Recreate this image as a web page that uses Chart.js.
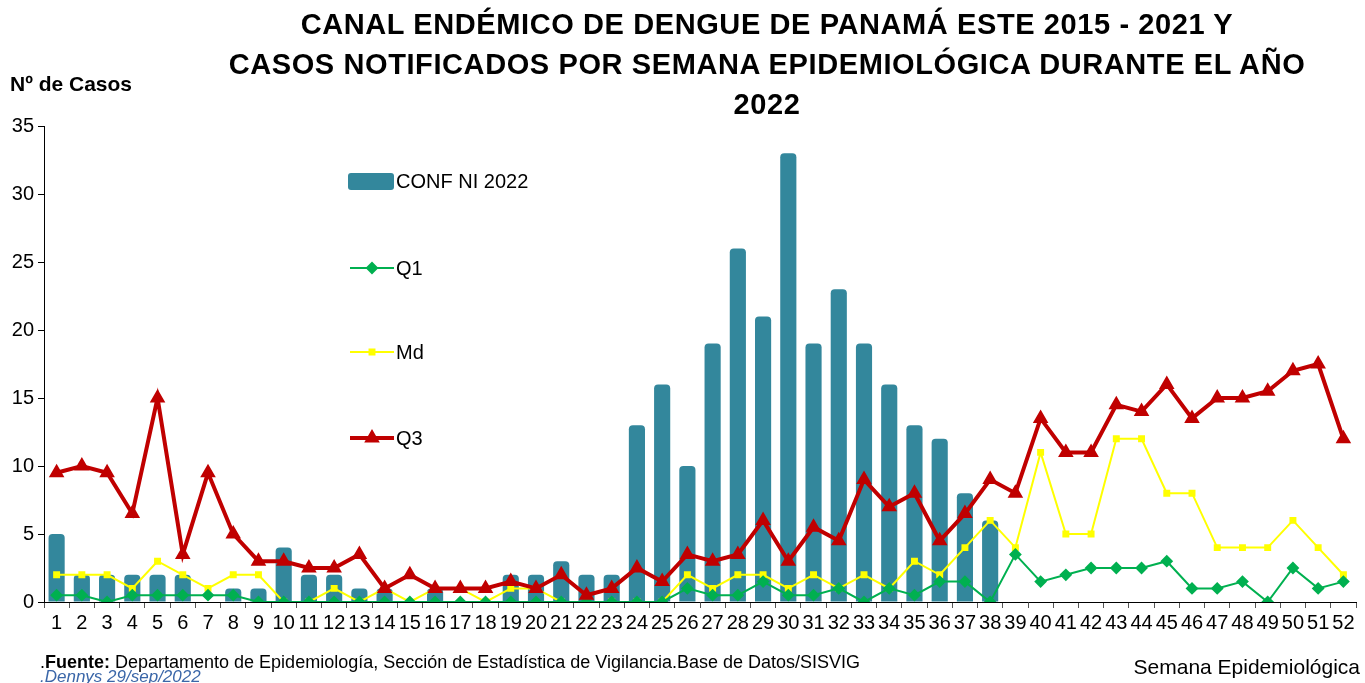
<!DOCTYPE html>
<html>
<head>
<meta charset="utf-8">
<script src="https://cdn.jsdelivr.net/npm/chart.js@4.4.1/dist/chart.umd.min.js"></script>
<style>
    body { margin: 0; background: #fff; }
    #wrap { position: relative; width: 1365px; height: 683px; overflow: hidden; font-family: "Liberation Sans", Arial, sans-serif; }
    #chart { position: absolute; left: 0; top: 0; }
    .titulo { position: absolute; left: 167px; width: 1200px; top: 4px; text-align: center; font-weight: bold; font-size: 29px; letter-spacing: 0.6px; line-height: 40px; color: #000; }
    .ytitle { position: absolute; left: 10px; top: 72px; font-weight: bold; font-size: 21px; }
    .fuente { position: absolute; left: 40px; top: 652px; font-size: 18px; }
    .firma { position: absolute; left: 40px; top: 667px; font-size: 17px; font-style: italic; color: #3a66a8; }
    .xtitle { position: absolute; right: 5px; top: 655px; font-size: 21px; }
</style>
</head>
<body>
<div id="wrap">
    <canvas id="chart" width="1365" height="683"></canvas>
    <div class="titulo">CANAL ENDÉMICO DE DENGUE DE PANAMÁ ESTE 2015 - 2021 Y<br>CASOS NOTIFICADOS POR SEMANA EPIDEMIOLÓGICA DURANTE EL AÑO<br>2022</div>
    <div class="ytitle">Nº de Casos</div>
    <div class="fuente">.<b>Fuente:</b> Departamento de Epidemiología, Sección de Estadística de Vigilancia.Base de Datos/SISVIG</div>
    <div class="firma">.Dennys 29/sep/2022</div>
    <div class="xtitle">Semana Epidemiológica</div>
</div>
<script>
// semanas epidemiologicas
const semanas = Array.from({length: 52}, (_, i) => String(i + 1));

// casos confirmados 2022 (hasta semana 38)
const confNI2022 = [5, 2, 2, 2, 2, 2, 0, 1, 1, 4, 2, 2, 1, 1, 0, 1, 0, 0, 2, 2,
    3, 2, 2, 13, 16, 10, 19, 26, 21, 33, 19, 23, 19, 16, 13, 12, 8, 6];

// canal endemico 2015-2021
const q1 = [0.5, 0.5, 0, 0.5, 0.5, 0.5, 0.5, 0.5, 0, 0, 0, 0, 0, 0, 0, 0, 0, 0, 0, 0,
    0, 0, 0, 0, 0, 1, 0.5, 0.5, 1.5, 0.5, 0.5, 1, 0, 1, 0.5, 1.5, 1.5, 0, 3.5, 1.5,
    2, 2.5, 2.5, 2.5, 3, 1, 1, 1.5, 0, 2.5, 1, 1.5];
const md = [2, 2, 2, 1, 3, 2, 1, 2, 2, 0, 0, 1, 0, 1, 0, 1, 1, 0, 1, 1,
    0, 0, 0, 0, 0, 2, 1, 2, 2, 1, 2, 1, 2, 1, 3, 2, 4, 6, 4, 11,
    5, 5, 12, 12, 8, 8, 4, 4, 4, 6, 4, 2];
const q3 = [9.5, 10, 9.5, 6.5, 15, 3.5, 9.5, 5, 3, 3, 2.5, 2.5, 3.5, 1, 2, 1, 1, 1, 1.5, 1,
    2, 0.5, 1, 2.5, 1.5, 3.5, 3, 3.5, 6, 3, 5.5, 4.5, 9, 7, 8, 4.5, 6.5, 9, 8, 13.5,
    11, 11, 14.5, 14, 16, 13.5, 15, 15, 15.5, 17, 17.5, 12];

const yTicks = [0, 5, 10, 15, 20, 25, 30, 35];

// leyenda dentro del area del grafico
const leyendaPlugin = {
    id: 'leyenda',
    afterDraw(chart) {
        const ctx = chart.ctx;
        const filas = [181, 268, 352, 438];
        const x0 = 348, x1 = 394;
        ctx.save();
        ctx.font = '20px "Liberation Sans", Arial, sans-serif';
        ctx.textBaseline = 'middle';
        chart.data.datasets.forEach((ds, i) => {
            const y = filas[i];
            if (ds.type === 'bar') {
                ctx.fillStyle = ds.backgroundColor;
                ctx.beginPath();
                ctx.roundRect(x0, y - 8, x1 - x0, 17, 3);
                ctx.fill();
            } else {
                ctx.strokeStyle = ds.borderColor;
                ctx.lineWidth = ds.borderWidth;
                ctx.beginPath();
                ctx.moveTo(x0 + 2, y);
                ctx.lineTo(x1, y);
                ctx.stroke();
                ctx.fillStyle = ds.pointBackgroundColor;
                ctx.strokeStyle = ds.pointBorderColor;
                Chart.helpers.drawPoint(ctx, {
                    pointStyle: ds.pointStyle, radius: ds.pointRadius, rotation: 0, borderWidth: 1
                }, (x0 + x1) / 2 + 1, y);
            }
            ctx.fillStyle = '#000';
            ctx.fillText(ds.label, x1 + 2, y + 1);
        });
        ctx.restore();
    }
};

new Chart(document.getElementById('chart'), {
    data: {
        labels: semanas,
        datasets: [
            {
                type: 'bar', label: 'CONF NI 2022', data: confNI2022,
                backgroundColor: '#33879c', borderRadius: {topLeft: 4, topRight: 4},
                barPercentage: 0.64, categoryPercentage: 1, order: 4
            },
            {
                type: 'line', label: 'Q1', data: q1,
                borderColor: '#00b050', borderWidth: 2,
                pointStyle: 'rectRot', pointRadius: 5,
                pointBackgroundColor: '#00b050', pointBorderColor: '#00b050', order: 2
            },
            {
                type: 'line', label: 'Md', data: md,
                borderColor: '#ffff00', borderWidth: 2,
                pointStyle: 'rect', pointRadius: 3.5,
                pointBackgroundColor: '#ffff00', pointBorderColor: '#ffff00', order: 3
            },
            {
                type: 'line', label: 'Q3', data: q3,
                borderColor: '#c00000', borderWidth: 4,
                pointStyle: 'triangle', pointRadius: 5,
                pointBackgroundColor: '#c00000', pointBorderColor: '#c00000', order: 1
            }
        ]
    },
    options: {
        responsive: false,
        animation: false,
        layout: { padding: { top: 126, right: 8, bottom: 51, left: 0 } },
        plugins: { legend: { display: false }, tooltip: { enabled: false } },
        elements: { line: { tension: 0 } },
        scales: {
            x: {
                afterFit(scale) { scale.height = 30; },
                border: { display: true, color: '#000', width: 1 },
                grid: { display: true, drawOnChartArea: false, drawTicks: true, tickLength: 6, color: '#555', offset: true },
                ticks: {
                    color: '#000', padding: 3, maxRotation: 0, autoSkip: false,
                    font: { family: '"Liberation Sans", Arial, sans-serif', size: 20 }
                }
            },
            y: {
                min: 0, max: 35,
                afterFit(scale) { scale.width = 44; },
                afterBuildTicks(scale) { scale.ticks = yTicks.map(v => ({value: v})); },
                border: { display: true, color: '#000', width: 1 },
                grid: { display: true, drawOnChartArea: false, drawTicks: true, tickLength: 6, color: '#000' },
                ticks: {
                    color: '#000', padding: 4,
                    font: { family: '"Liberation Sans", Arial, sans-serif', size: 20 }
                }
            }
        }
    },
    plugins: [leyendaPlugin]
});
</script>
</body>
</html>
